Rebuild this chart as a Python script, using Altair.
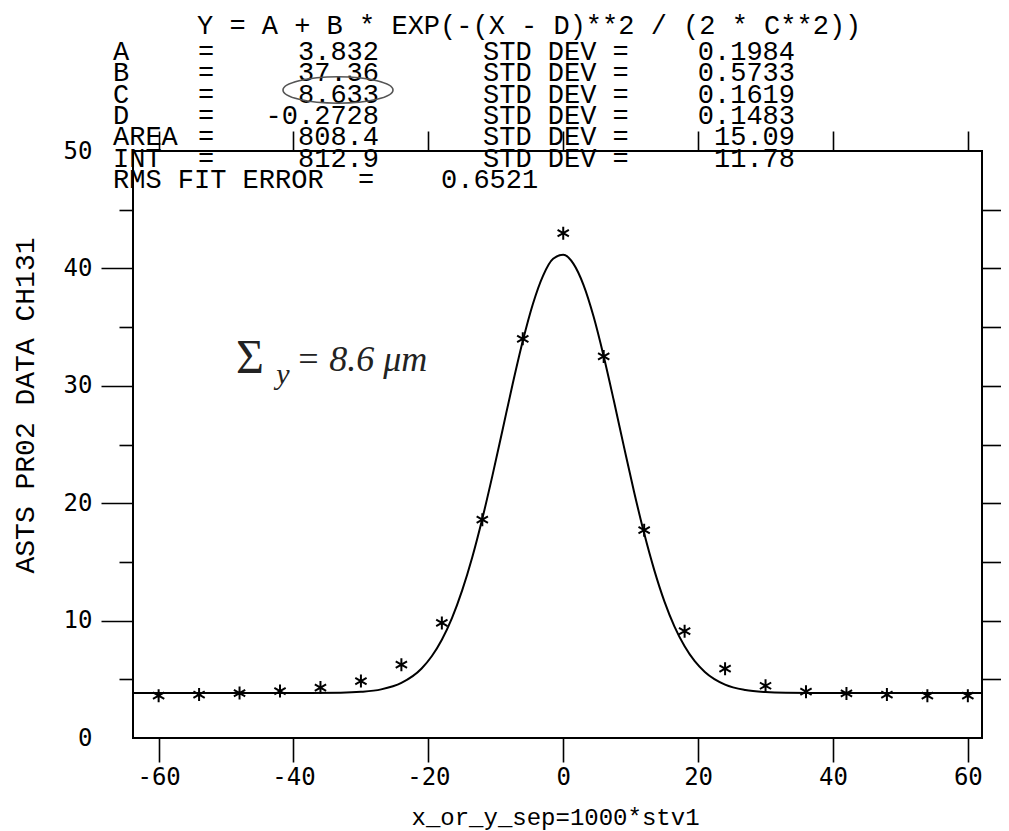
import altair as alt
import pandas as pd

# ---------------- data ----------------
x_points = [-60, -54, -48, -42, -36, -30, -24, -18, -12, -6, 0, 6, 12, 18, 24, 30, 36, 42, 48, 54, 60]
y_points = [3.6, 3.7, 3.83, 4.0, 4.3, 4.85, 6.25, 9.8, 18.6, 34.0, 43.0, 32.5, 17.7, 9.1, 5.9, 4.45, 3.95, 3.8, 3.7, 3.6, 3.6]

x_fit = [-63.8, -57, -51, -45, -39, -33, -30, -27, -24, -21, -19.5, -18, -16.5, -15, -13.5, -12,
         -10.5, -9, -7.5, -6, -4.5, -3, -1.5, 0, 1.5, 3, 4.5, 6, 7.5, 9, 10.5, 12, 13.5, 15,
         16.5, 18, 19.5, 21, 24, 27, 30, 33, 39, 45, 51, 57, 62.1]
y_fit = [3.83, 3.83, 3.83, 3.83, 3.84, 3.86, 3.93, 4.14, 4.69, 5.92, 6.96, 8.37, 10.21, 12.55, 15.38, 18.68,
         22.35, 26.24, 30.15, 33.81, 36.97, 39.37, 40.82, 41.17, 40.41, 38.60, 35.90, 32.52, 28.74, 24.82, 20.98, 17.43, 14.30, 11.64,
         9.49, 7.81, 6.54, 5.63, 4.55, 4.09, 3.91, 3.85, 3.83, 3.83, 3.83, 3.83, 3.83]

x_ticks = [-60, -40, -20, 0, 20, 40, 60]
y_ticks = [0, 5, 10, 15, 20, 25, 30, 35, 40, 45, 50]
y_right_ticks = [5, 10, 15, 20, 25, 30, 35, 40, 45]

fit_formula = ["Y = A + B * EXP(-(X - D)**2 / (2 * C**2))"]
param_names = ["A", "B", "C", "D", "AREA", "INT"]
param_values = ["3.832", "37.36", "8.633", "-0.2728", "808.4", "812.9"]
std_values = ["0.1984", "0.5733", "0.1619", "0.1483", "15.09", "11.78"]
rms_label = ["RMS FIT ERROR"]
rms_value = ["0.6521"]
x_title = "x_or_y_sep=1000*stv1"
y_title = "ASTS PR02 DATA CH131"
note_sigma = ["\u03a3"]
note_sub = ["y"]
note_rest = ["= 8.6 \u03bcm"]

# ---------------- layout ----------------
X_DOMAIN = [-63.8, 62.1]
Y_DOMAIN = [0, 50]
W, H = 849, 587
MONO = "Liberation Mono"
TICKFONT = "DejaVu Sans Mono"
HDR_SIZE = 27
ROW0 = -99
ROWSTEP = 21.3

xs = alt.Scale(domain=X_DOMAIN, nice=False, zero=False)
ys = alt.Scale(domain=Y_DOMAIN, nice=False, zero=False)

fit_df = pd.DataFrame({"x": x_fit, "y": y_fit})
pts_df = pd.DataFrame({"x": x_points, "y": y_points})

curve = alt.Chart(fit_df).mark_line(
    color="black", strokeWidth=2, interpolate="monotone", clip=True
).encode(
    x=alt.X("x:Q", scale=xs, axis=alt.Axis(
        orient="bottom", values=x_ticks, tickSize=24, tickWidth=1.6, tickColor="black",
        domain=False, grid=False, labelFont=TICKFONT, labelFontSize=24, labelColor="black",
        labelPadding=3,
        labelExpr="datum.value < 0 ? '-' + abs(datum.value) : '' + datum.value",
        title=x_title, titleFont=MONO, titleFontSize=24, titleFontWeight="normal",
        titleColor="black", titleX=422, titleY=79, titleBaseline="middle")),
    y=alt.Y("y:Q", scale=ys, axis=alt.Axis(
        orient="left", values=y_ticks,
        tickSize={"condition": {"test": "datum.value % 10 === 0", "value": 32}, "value": 14},
        tickOpacity={"condition": {"test": "datum.value === 0 || datum.value === 50", "value": 0}, "value": 1},
        tickWidth=1.6, tickColor="black", domain=False, grid=False,
        labelFont=TICKFONT, labelFontSize=24, labelColor="black", labelPadding=9,
        labelExpr="datum.value % 10 === 0 ? datum.label : ''",
        title=y_title, titleFont=MONO, titleFontSize=28, titleFontWeight="normal",
        titleColor="black", titleX=-108, titleY=254, titleBaseline="middle", titleAngle=-90)),
)

ASTERISK = "M0,-1L0,1M-0.87,-0.5L0.87,0.5M-0.87,0.5L0.87,-0.5"
points = alt.Chart(pts_df).mark_point(
    shape=ASTERISK, size=169, filled=False, stroke="black", strokeWidth=2, opacity=1
).encode(
    x=alt.X("x:Q", scale=xs, axis=alt.Axis(
        orient="top", values=x_ticks, tickSize=20, tickWidth=1.6, tickColor="black",
        labels=False, domain=False, grid=False, title=None)),
    y=alt.Y("y:Q", scale=ys, axis=alt.Axis(
        orient="right", values=y_right_ticks, tickSize=30, tickWidth=1.6, tickColor="black",
        labels=False, domain=False, grid=False, title=None)),
)

# ---------------- header text ----------------
hdr_df = pd.DataFrame({"row": list(range(len(param_names))), "name": param_names,
                       "val": param_values, "std": std_values})
hdr = alt.Chart(hdr_df).transform_calculate(py=f"datum.row * {ROWSTEP} + ({ROW0})")
txt = dict(font=MONO, fontSize=HDR_SIZE, color="black", baseline="middle")
ypix = alt.Y("py:Q", scale=None, axis=None)

h_name = hdr.mark_text(align="left", **txt).encode(x=alt.value(-20), y=ypix, text="name:N")
h_eq = hdr.mark_text(align="center", text="=", **txt).encode(x=alt.value(73), y=ypix)
h_val = hdr.mark_text(align="right", **txt).encode(x=alt.value(246), y=ypix, text="val:N")
h_stdl = hdr.mark_text(align="left", text="STD DEV =", **txt).encode(x=alt.value(350), y=ypix)
h_std = hdr.mark_text(align="right", **txt).encode(x=alt.value(662), y=ypix, text="std:N")

formula = alt.Chart(pd.DataFrame({"t": fit_formula})).mark_text(align="left", **txt).encode(
    x=alt.value(64), y=alt.value(-125), text="t:N")

rms_df = pd.DataFrame({"label": rms_label, "value": rms_value})
rms_y = ROW0 + ROWSTEP * len(param_names)
rms_l = alt.Chart(rms_df).mark_text(align="left", **txt).encode(
    x=alt.value(-20), y=alt.value(rms_y), text="label:N")
rms_eq = alt.Chart(rms_df).mark_text(align="center", text="=", **txt).encode(
    x=alt.value(233), y=alt.value(rms_y))
rms_v = alt.Chart(rms_df).mark_text(align="left", **txt).encode(
    x=alt.value(308), y=alt.value(rms_y), text="value:N")

# ---------------- handwritten notes ----------------
HAND = "Liberation Serif"
n1 = alt.Chart(pd.DataFrame({"t": note_sigma})).mark_text(
    align="center", baseline="middle", font=HAND, fontSize=48, color="#222").encode(
    x=alt.value(117), y=alt.value(208), text="t:N")
n2 = alt.Chart(pd.DataFrame({"t": note_sub})).mark_text(
    align="center", baseline="middle", font=HAND, fontSize=30, fontStyle="italic", color="#222").encode(
    x=alt.value(150), y=alt.value(224), text="t:N")
n3 = alt.Chart(pd.DataFrame({"t": note_rest})).mark_text(
    align="left", baseline="middle", font=HAND, fontSize=36, fontStyle="italic", color="#222").encode(
    x=alt.value(163), y=alt.value(209), text="t:N")

ELLIPSE = "M-1,0A1,0.24 0 1,0 1,0A1,0.24 0 1,0 -1,0Z"
ring = alt.Chart(pd.DataFrame({"t": ["ring"]})).mark_point(
    shape=ELLIPSE, size=12100, filled=False, stroke="#555", strokeWidth=1.6, opacity=1).encode(
    x=alt.value(205), y=alt.value(-61))

chart = alt.layer(
    curve, points, h_name, h_eq, h_val, h_stdl, h_std, formula, rms_l, rms_eq, rms_v, n1, n2, n3, ring
).resolve_scale(x="independent", y="independent").properties(
    width=W, height=H,
    autosize=alt.AutoSizeParams(type="none"),
    padding={"left": 125, "top": 143, "right": 19, "bottom": 93},
    background="white",
).configure_view(stroke="black", strokeWidth=2)

chart.save("out.html", embed_options={"renderer": "svg", "actions": False})
